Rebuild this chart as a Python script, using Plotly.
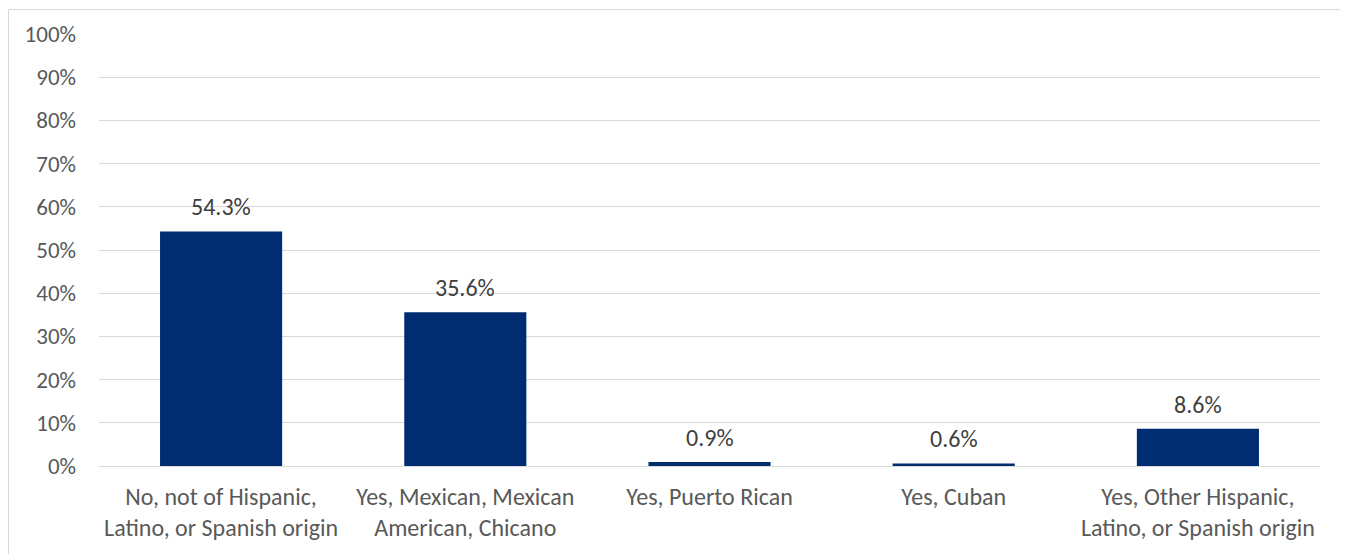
import plotly.graph_objects as go

categories = [
    "No, not of Hispanic,<br>Latino, or Spanish origin",
    "Yes, Mexican, Mexican<br>American, Chicano",
    "Yes, Puerto Rican",
    "Yes, Cuban",
    "Yes, Other Hispanic,<br>Latino, or Spanish origin",
]
values = [54.3, 35.6, 0.9, 0.6, 8.6]
value_labels = ["54.3%", "35.6%", "0.9%", "0.6%", "8.6%"]
tick_vals = [0, 10, 20, 30, 40, 50, 60, 70, 80, 90, 100]
tick_text = ["0%", "10%", "20%", "30%", "40%", "50%", "60%", "70%", "80%", "90%", "100%"]

FONT = "Carlito, Calibri, Lato, sans-serif"
# page body has an 8px margin; figure sized so plot area lands where the reference has it
W, H = 1340, 546
L, R, T, B = 91, 28, 25, 87
pw, ph = W - L - R, H - T - B

fig = go.Figure()
fig.add_trace(go.Bar(x=categories, y=values, marker=dict(color="#002D72", line=dict(width=0)),
                     hoverinfo="skip"))

for c, v, t in zip(categories, values, value_labels):
    fig.add_annotation(x=c, y=v, text=t, showarrow=False, yanchor="bottom", yshift=8,
                       font=dict(family=FONT, size=24, color="#404040"))

# chart border (cropped at top/right)
fig.add_shape(type="rect", xref="paper", yref="paper",
              x0=(0.5 - L) / pw, x1=(W + 10 - L) / pw,
              y0=(-10 - B) / ph, y1=(ph + T - 0.5) / ph,
              line=dict(color="#D9D9D9", width=1), fillcolor="rgba(0,0,0,0)", layer="below")

fig.update_layout(
    width=W, height=H,
    margin=dict(l=L, r=R, t=T, b=B, pad=0),
    paper_bgcolor="white", plot_bgcolor="white",
    bargap=0.5, showlegend=False,
    font=dict(family=FONT, size=24, color="#595959"),
    xaxis=dict(showgrid=False, showline=False, ticks="", ticklabelstandoff=14,
               tickfont=dict(family=FONT, size=24, color="#595959"), fixedrange=True),
    yaxis=dict(range=[0, 100], tickvals=tick_vals, ticktext=tick_text, showgrid=True,
               gridcolor="#D9D9D9", gridwidth=1, zeroline=True, zerolinecolor="#D9D9D9",
               zerolinewidth=1, showline=False, ticks="", ticklabelstandoff=22,
               tickfont=dict(family=FONT, size=23, color="#595959"), fixedrange=True),
)

fig.write_html("out.html")
